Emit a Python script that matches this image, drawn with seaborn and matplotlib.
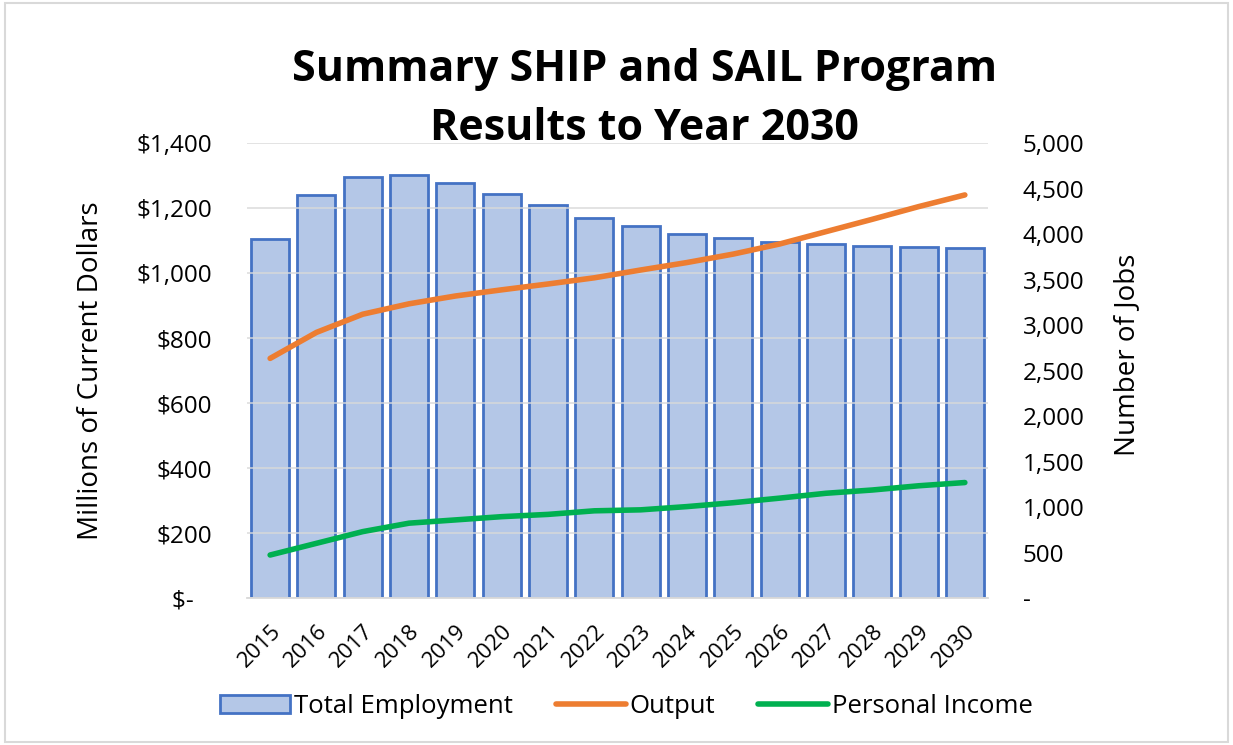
import numpy as np
import pandas as pd
import matplotlib
matplotlib.use('Agg')
import matplotlib.pyplot as plt
from matplotlib.patches import Patch, Rectangle
from matplotlib.lines import Line2D
from matplotlib.ticker import FuncFormatter
import seaborn as sns

# Data
years = [str(y) for y in range(2015, 2031)]
employment = [3945, 4429, 4626, 4652, 4564, 4446, 4319, 4182,
              4088, 4007, 3956, 3919, 3890, 3871, 3857, 3846]
output = [738, 818, 874, 906, 930, 949, 967, 986,
          1010, 1033, 1059, 1090, 1128, 1166, 1205, 1241]
income = [133, 169, 205, 231, 241, 251, 258, 269,
          272, 282, 294, 308, 323, 333, 346, 356]

df = pd.DataFrame({'Year': years, 'Total Employment': employment,
                   'Output': output, 'Personal Income': income})

bar_fill = '#B4C7E7'
bar_edge = '#4472C4'
c_output = '#ED7D31'
c_income = '#00B050'

sns.set_style('white')
plt.rcParams['font.family'] = ['Open Sans', 'DejaVu Sans']
plt.rcParams['text.color'] = 'black'
plt.rcParams['axes.labelcolor'] = 'black'
plt.rcParams['xtick.color'] = 'black'
plt.rcParams['ytick.color'] = 'black'

fig = plt.figure(figsize=(12.33, 7.45), dpi=100)
ax = fig.add_axes([0.2003, 0.197, 0.601, 0.6107])
ax2 = ax.twinx()

# bars on the right axis (jobs)
sns.barplot(data=df, x='Year', y='Total Employment', ax=ax2, color=bar_fill,
            edgecolor=bar_edge, linewidth=2, width=0.82, saturation=1)
ax2.set_ylim(0, 5000)
ax2.set_yticks(np.arange(0, 5001, 500))
ax2.yaxis.set_major_formatter(FuncFormatter(lambda v, p: '-' if v == 0 else f'{int(v):,}'))
ax2.set_ylabel('Number of Jobs', fontsize=20)
ax2.yaxis.set_label_coords(1.1687, 0.535)
ax2.tick_params(axis='y', labelsize=17.5, length=0, pad=25)

# lines on the left axis (dollars)
sns.lineplot(data=df, x='Year', y='Output', ax=ax, color=c_output,
             linewidth=4, sort=False, solid_capstyle='round')
sns.lineplot(data=df, x='Year', y='Personal Income', ax=ax, color=c_income,
             linewidth=4, sort=False, solid_capstyle='round')
ax.set_ylim(0, 1400)
ax.set_yticks(np.arange(0, 1401, 200))
ax.yaxis.set_major_formatter(FuncFormatter(lambda v, p: '$-   ' if v == 0 else f'${int(v):,}'))
ax.set_ylabel('Millions of Current Dollars', fontsize=20)
ax.yaxis.set_label_coords(-0.1916, 0.5)
ax.set_xlabel('')
ax2.set_xlabel('')
ax.tick_params(axis='y', labelsize=17.5, length=0, pad=25)
ax.tick_params(axis='x', labelsize=16, length=0, pad=16)
ax.set_xlim(-0.5, len(years) - 0.5)
plt.setp(ax.get_xticklabels(), rotation=45, ha='right', rotation_mode='anchor')

ax.set_zorder(ax2.get_zorder() + 1)
ax.patch.set_visible(False)
ax.yaxis.grid(True, color='#d9d9d9', linewidth=1.3, alpha=0.8)
ax.set_axisbelow(True)
for a in (ax, ax2):
    for s in a.spines.values():
        s.set_visible(False)
ax.spines['bottom'].set_visible(True)
ax.spines['bottom'].set_color('#d9d9d9')
ax.spines['bottom'].set_linewidth(1.3)

fig.text(0.523, 0.907, 'Summary SHIP and SAIL Program', ha='center', va='center',
         fontsize=31, fontweight='bold')
fig.text(0.523, 0.828, 'Results to Year 2030', ha='center', va='center',
         fontsize=31, fontweight='bold')

handles = [Patch(facecolor=bar_fill, edgecolor=bar_edge, linewidth=2),
           Line2D([0], [0], color=c_output, linewidth=4, solid_capstyle='round'),
           Line2D([0], [0], color=c_income, linewidth=4, solid_capstyle='round')]
fig.legend(handles, ['Total Employment', 'Output', 'Personal Income'],
           loc='center', bbox_to_anchor=(0.508, 0.052), ncol=3, frameon=False,
           fontsize=18.5, handlelength=2.72, handletextpad=0.15, columnspacing=1.67)

fig.add_artist(Rectangle((0.004, 0.004), 0.992, 0.992, transform=fig.transFigure,
                         fill=False, edgecolor='#d9d9d9', linewidth=1.5))

fig.savefig('out.png', dpi=100)
